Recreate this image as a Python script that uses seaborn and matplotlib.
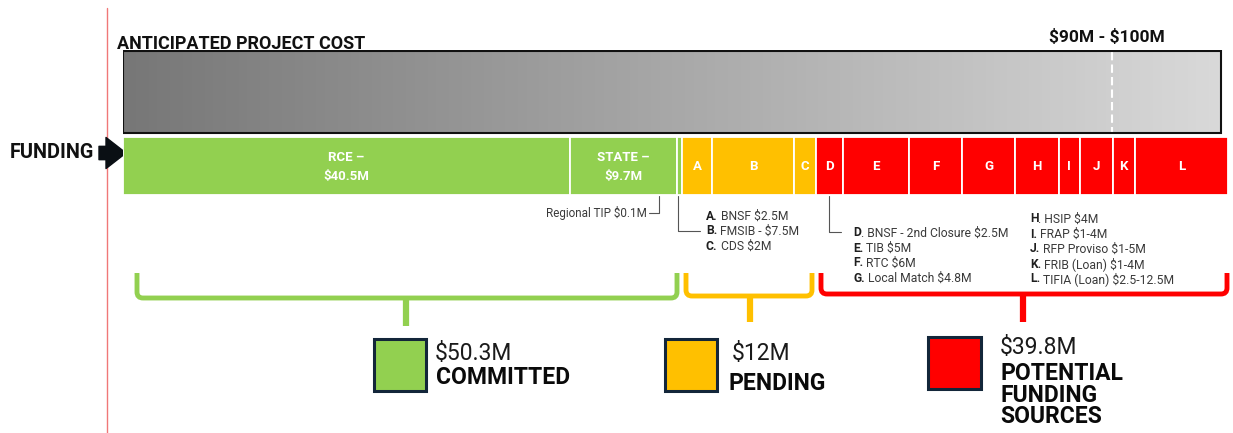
import matplotlib
matplotlib.use("Agg")
import numpy as np
import matplotlib.pyplot as plt
import seaborn as sns
from matplotlib.colors import LinearSegmentedColormap
from matplotlib.patches import Rectangle, PathPatch
from matplotlib.path import Path

# funding segments, widths in $M as they are drawn on the bar
segment_keys = ["RCE", "STATE", "TIP", "A", "B", "C", "D", "E", "F", "G", "H", "I", "J", "K", "L"]
segment_widths = [40.7, 9.75, 0.4, 2.8, 7.45, 2.0, 2.45, 6.0, 4.85, 4.8, 4.0, 1.9, 3.0, 2.0, 8.5]
segment_groups = ["committed"] * 3 + ["pending"] * 3 + ["potential"] * 9
segment_labels = ["RCE –\n$40.5M", "STATE –\n$9.7M", "", "A", "B", "C",
                  "D", "E", "F", "G", "H", "I", "J", "K", "L"]

cost_low, cost_high = 90, 100

pending_notes = [("A.", " BNSF $2.5M"), ("B.", " FMSIB - $7.5M"), ("C.", " CDS $2M")]
potential_notes_left = [("D", ". BNSF - 2nd Closure $2.5M"), ("E.", " TIB $5M"),
                        ("F.", " RTC $6M"), ("G.", " Local Match $4.8M")]
potential_notes_right = [("H", ". HSIP $4M"), ("I.", " FRAP $1-4M"), ("J.", " RFP Proviso $1-5M"),
                         ("K.", " FRIB (Loan) $1-4M"), ("L.", " TIFIA (Loan) $2.5-12.5M")]

legend_amounts = ["$50.3M", "$12M", "$39.8M"]
legend_names = ["COMMITTED", "PENDING", "POTENTIAL\nFUNDING\nSOURCES"]

colors = {"committed": "#92d050", "pending": "#ffc000", "potential": "#ff0000"}

sns.set_theme(style="white")
plt.rcParams["font.family"] = ["Roboto", "DejaVu Sans"]
plt.rcParams["text.parse_math"] = False

W, H = 1233, 433
fig = plt.figure(figsize=(W / 100, H / 100), dpi=100)

# overlay in pixel coordinates for layout text and decorations
ov = fig.add_axes([0, 0, 1, 1])
ov.set_xlim(0, W)
ov.set_ylim(H, 0)
ov.axis("off")
ov.patch.set_alpha(0)

# bar axes: x in $M
ax = fig.add_axes([123 / W, 1 - 196 / H, 1105 / W, 146 / H])
ax.axis("off")
ax.patch.set_alpha(0)

# anticipated cost bar with gradient
grad = np.linspace(0, 1, 256).reshape(1, -1)
cmap = LinearSegmentedColormap.from_list("cost", ["#777777", "#d9d9d9"])
ax.imshow(grad, extent=(0, cost_high, 133, 51), aspect="auto", cmap=cmap, zorder=1)
ax.add_patch(Rectangle((0, 51), cost_high, 82, fill=False, edgecolor="#111111", lw=1.5, zorder=3))
ax.vlines(cost_low, 52, 132, colors="white", linestyles=(0, (4, 2)), lw=1.5, zorder=2)

# funding stacked bar
lefts = np.concatenate([[0], np.cumsum(segment_widths)[:-1]])
for key, w, left, grp, lab in zip(segment_keys, segment_widths, lefts, segment_groups, segment_labels):
    ax.barh(166, w, left=left, height=58, color=colors[grp], edgecolor="white", lw=1.3, zorder=2)
    if lab:
        ax.text(left + w / 2, 167, lab, ha="center", va="center", color="white",
                fontsize=9.5, fontweight="bold", linespacing=1.6, zorder=4)

ax.set_xlim(0, sum(segment_widths))
ax.set_ylim(196, 50)

# header texts
ov.text(117, 44, "ANTICIPATED PROJECT COST", fontsize=13, fontweight="bold", ha="left", va="center", color="#111111")
ov.text(1107, 37, "$90M - $100M", fontsize=12.5, fontweight="bold", ha="center", va="center", color="#111111")
ov.text(10, 153, "FUNDING", fontsize=14.3, fontweight="bold", ha="left", va="center", color="#111111")
ov.annotate("", xy=(126, 153), xytext=(99, 153),
            arrowprops=dict(arrowstyle="simple,head_width=1.4,head_length=0.9,tail_width=0.6",
                            color="#0a0f14", mutation_scale=16, shrinkA=0, shrinkB=0))

# red margin line
ov.plot([107, 107], [8, H], color="#f07878", lw=1)

# leaders and notes
lc = "#555555"
ov.plot([659, 659, 649], [196, 213, 213], color=lc, lw=0.8)
ov.text(647, 213, "Regional TIP $0.1M", fontsize=8.4, ha="right", va="center", color="#3a3a3a")
ov.plot([678, 678, 700], [196, 231, 231], color=lc, lw=0.8)
ov.plot([829, 829, 841], [196, 232, 232], color=lc, lw=0.8)


def note_list(x, y0, notes, step=15):
    for i, (head, rest) in enumerate(notes):
        t = ov.text(x, y0 + i * step, head, fontsize=8.7, fontweight="bold", ha="left", va="center",
                    color="#1e1e1e")
        ov.annotate(rest, xy=(1, 0.5), xycoords=t, ha="left", va="center", fontsize=8.7, color="#3a3a3a")


note_list(706, 216, pending_notes)
note_list(853, 233, potential_notes_left)
note_list(1030, 219, potential_notes_right)


# brackets
def bracket(x0, x1, xm, color, base, top=273, stem_end=326, r=6):
    verts = [(x0, top), (x0, base - r), (x0, base), (x0 + r, base), (x1 - r, base),
             (x1, base), (x1, base - r), (x1, top)]
    codes = [Path.MOVETO, Path.LINETO, Path.CURVE3, Path.CURVE3, Path.LINETO,
             Path.CURVE3, Path.CURVE3, Path.LINETO]
    ov.add_patch(PathPatch(Path(verts, codes), fill=False, edgecolor=color, lw=3.5, capstyle="butt"))
    ov.plot([xm, xm], [base, stem_end], color=color, lw=4.5, solid_capstyle="butt")


bracket(137, 677, 406, colors["committed"], base=298)
bracket(686, 812, 750, colors["pending"], base=296, stem_end=322)
bracket(821, 1227, 1023, colors["potential"], base=294, stem_end=322)

# legend
legend_boxes = [(374, 339, 52, 52), (665, 339, 52, 52), (928, 337, 53, 52)]
amount_pos = [(435, 354), (732, 353), (1000, 347)]
name_pos = [(436, 377), (728, 383), (1000, 395)]
for grp, box, amt, name, ap, npos in zip(["committed", "pending", "potential"], legend_boxes,
                                         legend_amounts, legend_names, amount_pos, name_pos):
    x, y, w, h = box
    ov.add_patch(Rectangle((x, y), w, h, facecolor=colors[grp], edgecolor="#13263a", lw=2.2))
    ov.text(ap[0], ap[1], amt, fontsize=16.5, ha="left", va="center", color="#1a1a1a")
    ov.text(npos[0], npos[1], name, fontsize=16.5, fontweight="bold", ha="left", va="center",
            color="#0a0a0a", linespacing=0.9)

fig.savefig("out.png", dpi=100)
plt.close(fig)
